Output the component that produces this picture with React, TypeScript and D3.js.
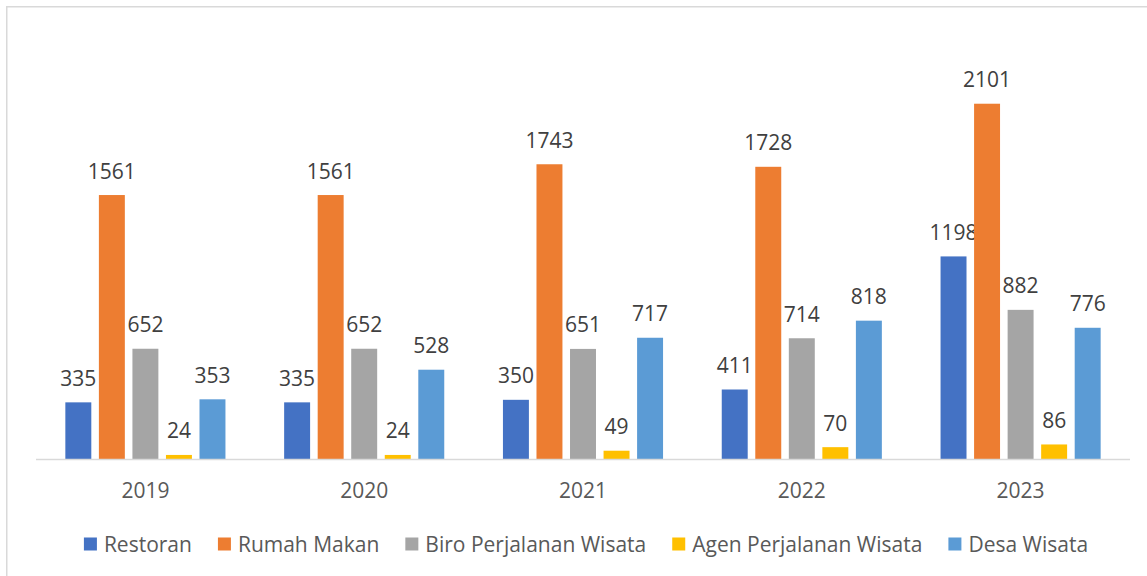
import React, { useEffect, useRef } from "react";
import * as d3 from "d3";

const years = ["2019", "2020", "2021", "2022", "2023"];
const seriesNames = ["Restoran", "Rumah Makan", "Biro Perjalanan Wisata", "Agen Perjalanan Wisata", "Desa Wisata"];
const restoran = [335, 335, 350, 411, 1198];
const rumahMakan = [1561, 1561, 1743, 1728, 2101];
const biro = [652, 652, 651, 714, 882];
const agen = [24, 24, 49, 70, 86];
const desa = [353, 528, 717, 818, 776];
const colors = ["#4472C4", "#ED7D31", "#A5A5A5", "#FFC000", "#5B9BD5"];

const W = 1147;
const H = 576;
const FONT = "'Open Sans', sans-serif";

export default function App() {
  const ref = useRef<SVGSVGElement>(null);

  useEffect(() => {
    const svg = d3.select(ref.current);
    svg.selectAll("*").remove();

    const values = [restoran, rumahMakan, biro, agen, desa];

    // outer border
    svg.append("rect")
      .attr("x", 6.75).attr("y", 6.75)
      .attr("width", 1160).attr("height", 600)
      .attr("fill", "#fff").attr("stroke", "#d9d9d9").attr("stroke-width", 1.5);

    const x0 = d3.scaleBand<string>().domain(years).range([36, 1130]).paddingInner(0).paddingOuter(0);
    const x1 = d3.scaleBand<string>().domain(seriesNames).range([0, x0.bandwidth()]).paddingInner(0.226).paddingOuter(0.875);
    const y = d3.scaleLinear().domain([0, 2500]).range([459, 459 - 2500 * 0.1691]);

    const g = svg.append("g");
    seriesNames.forEach((name, si) => {
      const sg = g.append("g");
      years.forEach((yr, yi) => {
        const v = values[si][yi];
        const bx = (x0(yr) as number) + (x1(name) as number);
        sg.append("rect")
          .attr("x", bx).attr("y", y(v))
          .attr("width", x1.bandwidth()).attr("height", y(0) - y(v))
          .attr("fill", colors[si]);
        sg.append("text")
          .attr("x", bx + x1.bandwidth() / 2).attr("y", y(v) - 16.5)
          .attr("text-anchor", "middle")
          .attr("font-family", FONT).attr("font-size", 21)
          .attr("fill", "#404040")
          .text(String(v));
      });
    });

    // axis line
    svg.append("line")
      .attr("x1", 36).attr("x2", 1130).attr("y1", 459.5).attr("y2", 459.5)
      .attr("stroke", "#d9d9d9").attr("stroke-width", 1.5);

    // year labels
    years.forEach((yr) => {
      svg.append("text")
        .attr("x", (x0(yr) as number) + x0.bandwidth() / 2).attr("y", 498)
        .attr("text-anchor", "middle")
        .attr("font-family", FONT).attr("font-size", 21)
        .attr("fill", "#595959")
        .text(yr);
    });

    // legend
    const lg = svg.append("g");
    const sq = 13;
    const gapText = 7;
    const gapItem = 26;
    const items: { g: any; w: number }[] = [];
    seriesNames.forEach((name, si) => {
      const ig = lg.append("g");
      ig.append("rect").attr("x", 0).attr("y", 537.5).attr("width", sq).attr("height", sq).attr("fill", colors[si]);
      const t = ig.append("text")
        .attr("x", sq + gapText).attr("y", 551.5)
        .attr("font-family", FONT).attr("font-size", 21)
        .attr("fill", "#595959")
        .text(name);
      const tw = (t.node() as SVGTextElement).getComputedTextLength();
      items.push({ g: ig, w: sq + gapText + tw });
    });
    const total = items.reduce((a, b) => a + b.w, 0) + gapItem * (items.length - 1);
    let cx = 586 - total / 2;
    items.forEach((it) => {
      it.g.attr("transform", `translate(${cx},0)`);
      cx += it.w + gapItem;
    });
  }, []);

  return (
    <svg ref={ref} width={W} height={H} style={{ position: "absolute", left: 0, top: 0, background: "#fff" }} />
  );
}
